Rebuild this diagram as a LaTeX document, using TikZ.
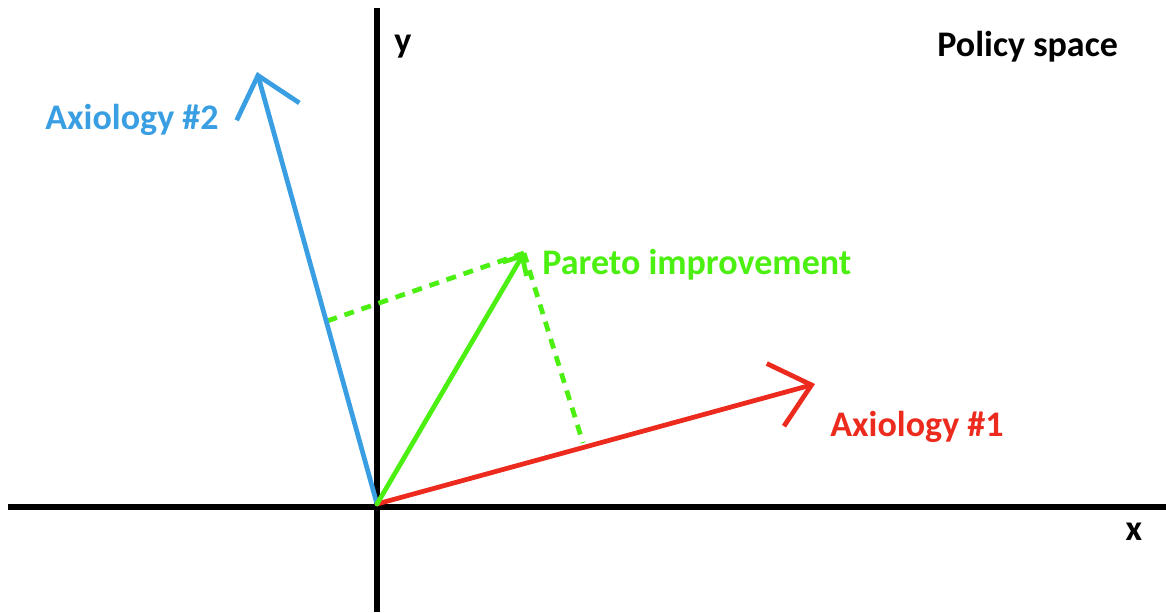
\documentclass[tikz,border=0pt]{standalone}
\usepackage{fontspec}
\setmainfont{Carlito}
\usetikzlibrary{arrows.meta}
\definecolor{axblue}{HTML}{3A9FE2}
\definecolor{axred}{HTML}{EC2B1E}
\definecolor{pgreen}{HTML}{4BEF10}
\tikzset{
  axisl/.style={line width=2.9pt,draw=black},
  vec/.style={line width=2.7pt,line cap=round},
  bigtip/.style={-{Straight Barb[length=7.5mm,width=13mm]}},
  smalltip/.style={-{Straight Barb[length=3mm,width=5.5mm]}},
  proj/.style={line width=2.7pt,draw=pgreen,dash pattern=on 2mm off 1.6mm},
  lbl/.style={font=\fontsize{20.5}{24}\selectfont\bfseries,inner sep=0pt},
}
\begin{document}
\begin{tikzpicture}[x=0.02cm,y=-0.02cm]
  \useasboundingbox (0,0) rectangle (1166,612);
  % axes
  \coordinate (xl) at (8,507);
  \coordinate (xr) at (1166,507);
  \coordinate (yt) at (377,8);
  \coordinate (yb) at (377,612);
  \draw[axisl] (xl) -- (xr);
  \draw[axisl] (yt) -- (yb);
  % vectors
  \coordinate (o) at (377,504);
  \coordinate (ax2) at (257,72);
  \coordinate (ax1) at (815,384);
  \coordinate (par) at (524,253);
  \coordinate (f2) at (327,321);
  \coordinate (f1) at (583,443);
  \draw[proj] (par) -- (f2);
  \draw[proj] (par) -- (f1);
  \draw[vec,axblue,bigtip] (o) -- (ax2);
  \draw[vec,axred,bigtip] (o) -- (ax1);
  \draw[vec,pgreen,smalltip] (o) -- (par);
  % labels
  \node[lbl,anchor=west,text=axblue] (l2) at (45,120) {Axiology \#2};
  \node[lbl,anchor=west,text=axred] (l1) at (830,427) {Axiology \#1};
  \node[lbl,anchor=west,text=pgreen] (lp) at (542,265) {Pareto improvement};
  \node[lbl,anchor=west] (ps) at (937,47) {Policy space};
  \node[lbl] (ly) at (403,47) {y};
  \node[lbl] (lx) at (1134,532) {x};
\end{tikzpicture}
\end{document}
